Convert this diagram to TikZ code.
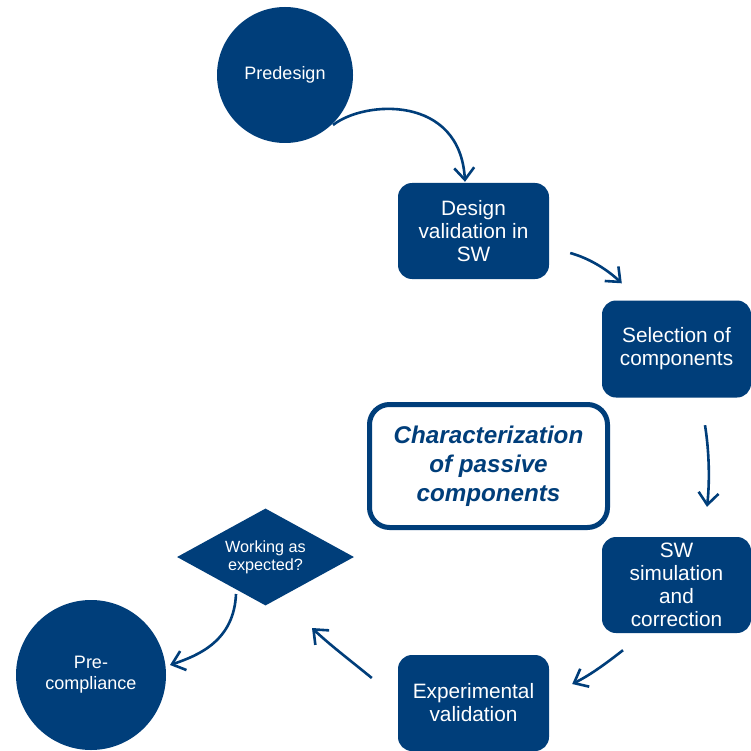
\documentclass[tikz,border=0pt]{standalone}
\usepackage{fontspec}
\setmainfont{Liberation Sans}
\usetikzlibrary{shapes.geometric,arrows.meta,calc}
\definecolor{navy}{RGB}{0,62,122}
\begin{document}
\begin{tikzpicture}[x=1pt,y=-1pt,
 circ/.style={circle,fill=navy,text=white,inner sep=0pt,font=\fontsize{18}{21}\selectfont,align=center},
 box/.style={rectangle,rounded corners=14pt,fill=navy,text=white,inner sep=0pt,font=\fontsize{20.8}{23}\selectfont,align=center},
 arr/.style={draw=navy,line width=2.6pt,-{Straight Barb[length=12pt,width=20pt]}}
]
\useasboundingbox[fill=white] (0,0) rectangle (751,751);
\node[circ,minimum size=136pt] (pre) at (285,75) {Predesign};
\node[box,minimum width=151pt,minimum height=96pt] (dv) at (473.5,231) {Design\\validation in\\SW};
\node[box,minimum width=149pt,minimum height=97pt] (sel) at (676.5,349) {Selection of\\components};
\node[rectangle,rounded corners=20pt,draw=navy,line width=5pt,fill=white,minimum width=238pt,minimum height=123pt,inner sep=0pt,text=navy,align=center,font=\bfseries\itshape\fontsize{24.2}{29}\selectfont] (char) at (488.5,466) {Characterization\\of passive\\components};
\node[box,minimum width=149pt,minimum height=96pt] (sw) at (676.5,585) {SW\\simulation\\and\\correction};
\node[box,minimum width=151pt,minimum height=96pt] (exp) at (473.5,703) {Experimental\\validation};
\node[diamond,aspect=1.82,fill=navy,text=white,inner sep=0pt,minimum width=177pt,minimum height=97pt,align=center,font=\fontsize{16.2}{18}\selectfont] (dia) at (265.5,557) {Working as\\expected?};
\node[circ,minimum size=150pt] (pc) at (91,675) {Pre-\\compliance};

\draw[arr] ($(pre.center)+(48,50)$) .. controls +(32,-25) and +(-5,-87) .. ($(dv.north)+(-8.5,-1)$);
\draw[arr] ($(dv.east)+(21,22)$) .. controls +(18,5) and +(-16,-15) .. ($(sel.north west)+(20,-17)$);
\draw[arr] ($(sel.south)+(28.5,27.5)$) .. controls +(4,25) and +(3,-27) .. ($(sw.north)+(30.5,-30)$);
\draw[arr] ($(sw.south)+(-53.5,17)$) .. controls +(-18,14) and +(18,-9) .. ($(exp.east)+(23,-19)$);
\draw[arr] ($(exp.west)+(-26,-25)$) .. controls +(-22,-18) and +(18,17) .. ($(dia.center)+(46.5,71)$);
\draw[arr] ($(dia.center)+(-29.5,37)$) .. controls +(-2,46) and +(30,-10) .. ($(pc.center)+(79,-10)$);
\end{tikzpicture}
\end{document}
